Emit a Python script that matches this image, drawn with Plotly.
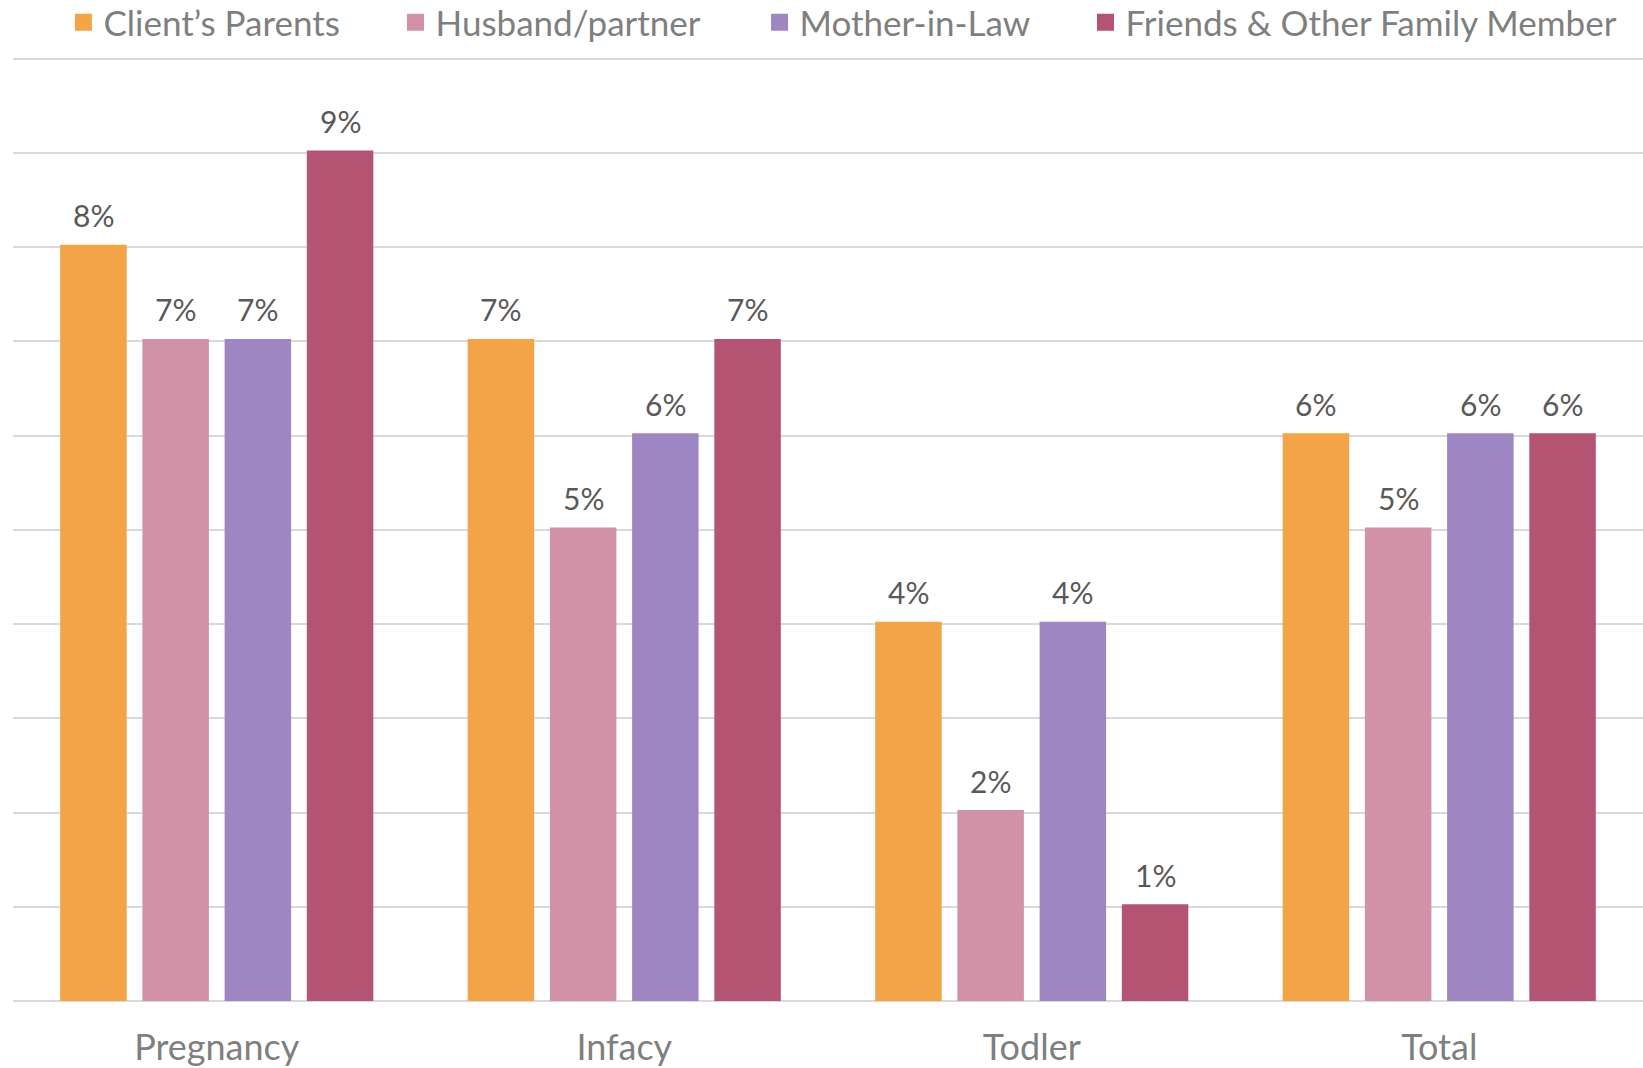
import plotly.graph_objects as go

categories = ["Pregnancy", "Infacy", "Todler", "Total"]
series_names = ["Client\u2019s Parents", "Husband/partner", "Mother-in-Law", "Friends & Other Family Member"]
clients_parents = [8, 7, 4, 6]
husband_partner = [7, 5, 2, 5]
mother_in_law = [7, 6, 4, 6]
friends_family = [9, 7, 1, 6]
colors = ["#F3A447", "#D191A6", "#9E86C2", "#B45473"]

FONT = "Lato"
BARGAP = 0.193
series_values = [clients_parents, husband_partner, mother_in_law, friends_family]
legend_x = [0.0386, 0.2407, 0.4623, 0.6607]
n_series = len(series_values)
slot = (1 - BARGAP) / n_series

fig = go.Figure()
annotations = []
for i, (name, vals, col) in enumerate(zip(series_names, series_values, colors)):
    lname = "legend" if i == 0 else f"legend{i+1}"
    fig.add_trace(go.Bar(
        x=list(range(len(categories))), y=vals, name=name,
        marker=dict(color=col, line=dict(width=5, color=col)),
        legend=lname,
        hovertemplate="%{y}%<extra>" + name + "</extra>",
    ))
    for j, v in enumerate(vals):
        annotations.append(dict(
            x=j + (i - (n_series - 1) / 2) * slot, y=v, xref="x", yref="y",
            text=f"{v}%", showarrow=False, yanchor="bottom", yshift=12,
            font=dict(family=FONT, size=30, color="#595959"),
        ))

layout_legends = {}
for i in range(n_series):
    lname = "legend" if i == 0 else f"legend{i+1}"
    layout_legends[lname] = dict(
        orientation="h", xref="container", yref="container", x=legend_x[i], y=0.979,
        xanchor="left", yanchor="middle", bgcolor="rgba(0,0,0,0)",
        font=dict(family=FONT, size=35, color="#7F7F7F"),
    )

fig.update_layout(
    width=1643, height=1068, autosize=False,
    barmode="group", bargap=BARGAP, bargroupgap=0.252,
    plot_bgcolor="white", paper_bgcolor="white",
    margin=dict(l=13, r=0, t=56, b=67),
    font=dict(family=FONT, color="#7F7F7F"),
    showlegend=True,
    annotations=annotations,
    xaxis=dict(showline=False, ticks="", tickmode="array",
               tickvals=list(range(len(categories))), ticktext=categories,
               range=[-0.5, len(categories) - 0.5],
               tickfont=dict(family=FONT, size=36, color="#7F7F7F"),
               ticklabelstandoff=22),
    yaxis=dict(range=[0, 10.03], dtick=1, tick0=0, showticklabels=False, gridcolor="#D9D9D9", gridwidth=2,
               zeroline=True, zerolinecolor="#D9D9D9", zerolinewidth=2, showline=False, ticks=""),
    **layout_legends,
)

fig.write_html("out.html", config={"displayModeBar": False},
               post_script="document.body.style.margin='0';")
